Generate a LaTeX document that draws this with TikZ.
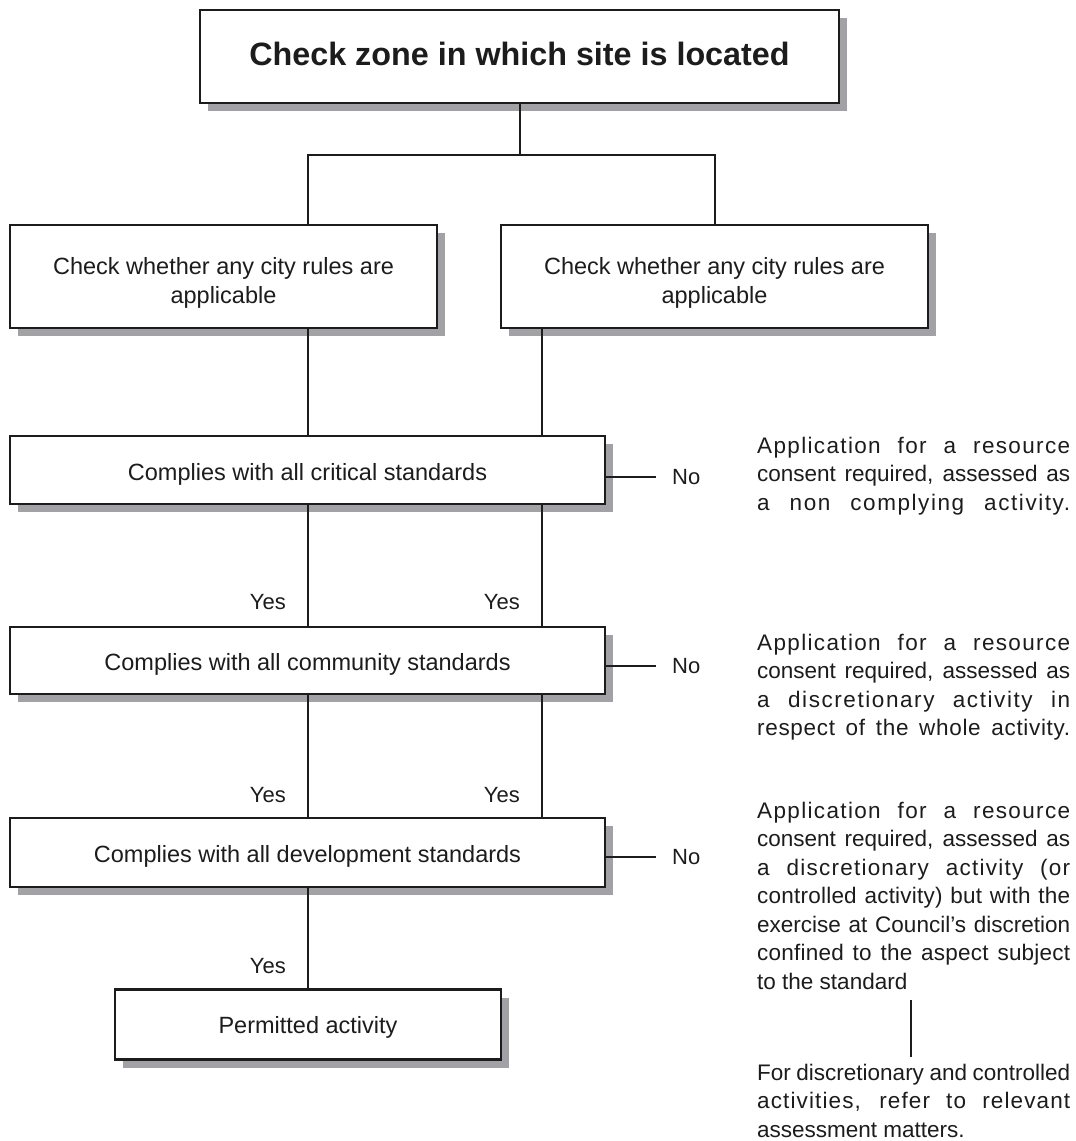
\documentclass[tikz,border=0pt]{standalone}
\usepackage{fontspec}
\setmainfont{Liberation Sans}
\usetikzlibrary{shadows,calc}
\definecolor{shade}{RGB}{162,162,166}
\definecolor{ink}{RGB}{28,28,28}
\newcommand\jline[2]{\hbox to 313pt{\addfontfeature{LetterSpace=#1}#2}}
\newcommand\lline[1]{\hbox to 313pt{#1\hfil}}
\newcommand\upstrut[1]{\rule{0pt}{#1}}
\begin{document}
\begin{tikzpicture}[x=1pt,y=-1pt,
  box/.style={draw=ink, line width=2.6pt, fill=white, rectangle, inner sep=0pt,
    align=center, text=ink, font=\fontsize{23.5pt}{29pt}\selectfont,
    drop shadow={shadow xshift=8pt, shadow yshift=-8pt, fill=shade, opacity=1}},
  conn/.style={draw=ink, line width=2pt},
  lbl/.style={inner sep=0pt, text=ink, font=\fontsize{22pt}{26pt}\selectfont},
  para/.style={inner sep=0pt, anchor=base west, text=ink, font=\fontsize{22.5pt}{28.5pt}\selectfont}]
\useasboundingbox[fill=white] (0,0) rectangle (1076,1141);

% column coordinates
\coordinate (cL) at (308,0);
\coordinate (cR) at (542,0);
\coordinate (bar) at (0,155);
\coordinate (vx) at (911,0);

% boxes
\node[box, minimum width=639pt, minimum height=93pt, font=\bfseries\fontsize{32.3pt}{38pt}\selectfont] (top) at (519.5,56.5) {\rule[-6pt]{0pt}{1pt}Check zone in which site is located};
\node[box, minimum width=427pt, minimum height=103pt] (l2) at (223.5,276.5) {\upstrut{29pt}Check whether any city rules are\\applicable};
\node[box, minimum width=427pt, minimum height=103pt] (r2) at (714.5,276.5) {\upstrut{29pt}Check whether any city rules are\\applicable};
\node[box, minimum width=595pt, minimum height=68pt] (b3) at (307.5,470) {\upstrut{25pt}Complies with all critical standards};
\node[box, minimum width=595pt, minimum height=67pt] (b4) at (307.5,660.5) {\upstrut{25pt}Complies with all community standards};
\node[box, minimum width=595pt, minimum height=69pt] (b5) at (307.5,852.5) {\upstrut{25pt}Complies with all development standards};
\node[box, minimum width=386pt, minimum height=70pt] (b6) at (308,1024.5) {\upstrut{23pt}Permitted activity};

% connectors
\draw[conn] (top.south) -- (top.south |- bar);
\draw[conn] (l2.north -| cL) -- (bar -| cL) -- (bar -| r2.north) -- (r2.north);
\draw[conn] (l2.south -| cL) -- (b3.north -| cL);
\draw[conn] (r2.south -| cR) -- (b3.north -| cR);
\draw[conn] (b3.south -| cL) -- (b4.north -| cL);
\draw[conn] (b3.south -| cR) -- (b4.north -| cR);
\draw[conn] (b4.south -| cL) -- (b5.north -| cL);
\draw[conn] (b4.south -| cR) -- (b5.north -| cR);
\draw[conn] (b5.south -| cL) -- (b6.north -| cL);

% yes labels
\node[lbl, anchor=base east] (y1l) at (286,609) {Yes};
\node[lbl, anchor=base east] (y1r) at (520,609) {Yes};
\node[lbl, anchor=base east] (y2l) at (286,802) {Yes};
\node[lbl, anchor=base east] (y2r) at (520,802) {Yes};
\node[lbl, anchor=base east] (y3) at (286,973) {Yes};

% no labels
\node[lbl, anchor=base west] (n1) at (672,484) {No};
\node[lbl, anchor=base west] (n2) at (672,673) {No};
\node[lbl, anchor=base west] (n3) at (672,864) {No};
\draw[conn] (b3.east |- n1.west) -- ([xshift=-16pt]n1.west);
\draw[conn] (b4.east |- n2.west) -- ([xshift=-16pt]n2.west);
\draw[conn] (b5.east |- n3.west) -- ([xshift=-16pt]n3.west);

% explanatory paragraphs
\node[para] (p1) at (757,453) {\vtop{%
  \jline{6}{Application for a resource}%
  \jline{0}{consent required, assessed as}%
  \jline{7}{a non complying activity.}}};
\node[para] (p2) at (757,650) {\vtop{%
  \jline{6}{Application for a resource}%
  \jline{0}{consent required, assessed as}%
  \jline{7}{a discretionary activity in}%
  \jline{3}{respect of the whole activity.}}};
\node[para] (p3) at (757,818) {\vtop{%
  \jline{6}{Application for a resource}%
  \jline{0}{consent required, assessed as}%
  \jline{5.5}{a discretionary activity (or}%
  \jline{1}{controlled activity) but with the}%
  \jline{0}{exercise at Council’s discretion}%
  \jline{1}{confined to the aspect subject}%
  \lline{to the standard}}};
\node[para] (p4) at (757,1080) {\vtop{%
  \jline{0}{For discretionary and controlled}%
  \jline{5}{activities, refer to relevant}%
  \lline{assessment matters.}}};
\draw[conn] ($(p3.south -| vx)+(0,11)$) -- ($(p4.north -| vx)+(0,-7)$);
\end{tikzpicture}
\end{document}
